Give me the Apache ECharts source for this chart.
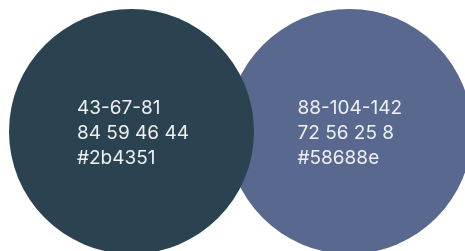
<!DOCTYPE html>
<html><head><meta charset="utf-8">
<script src="https://cdn.jsdelivr.net/npm/echarts@6/dist/echarts.min.js"></script>
<style>html,body{margin:0;padding:0;background:#fff}#c{width:465px;height:251px}</style>
</head><body><div id="c"></div>
<script>
const categories = ['left', 'right'];
const hexCodes = ['#2b4351', '#58688e'];
const rgbCodes = ['43-67-81', '88-104-142'];
const cmykCodes = ['84 59 46 44', '72 56 25 8'];
const yValues = [0, 0];

const chart = echarts.init(document.getElementById('c'), null, {renderer: 'canvas'});
function makeSeries(i, z) {
  const data = categories.map((c, j) => j === i ? [c, yValues[j]] : null).filter(Boolean);
  return {
    type: 'scatter', z: z, silent: true,
    symbol: 'circle', symbolSize: 245,
    itemStyle: {color: hexCodes[i], opacity: 1},
    label: {
      show: true, position: 'inside', align: 'left', verticalAlign: 'middle',
      offset: [i === 0 ? -54.5 : -52, 1.5],
      color: '#eef0f3', fontFamily: 'Inter', fontSize: 19, lineHeight: 25,
      formatter: () => rgbCodes[i] + '\n' + cmykCodes[i] + '\n' + hexCodes[i]
    },
    data: data
  };
}
chart.setOption({
  animation: false,
  grid: {left: 22.5, right: 6.5, top: 0, bottom: 0},
  xAxis: {type: 'category', data: categories, boundaryGap: true, show: false},
  yAxis: {type: 'value', min: -119.5, max: 131.5, show: false},
  series: [makeSeries(1, 2), makeSeries(0, 3)]
});
</script></body></html>
